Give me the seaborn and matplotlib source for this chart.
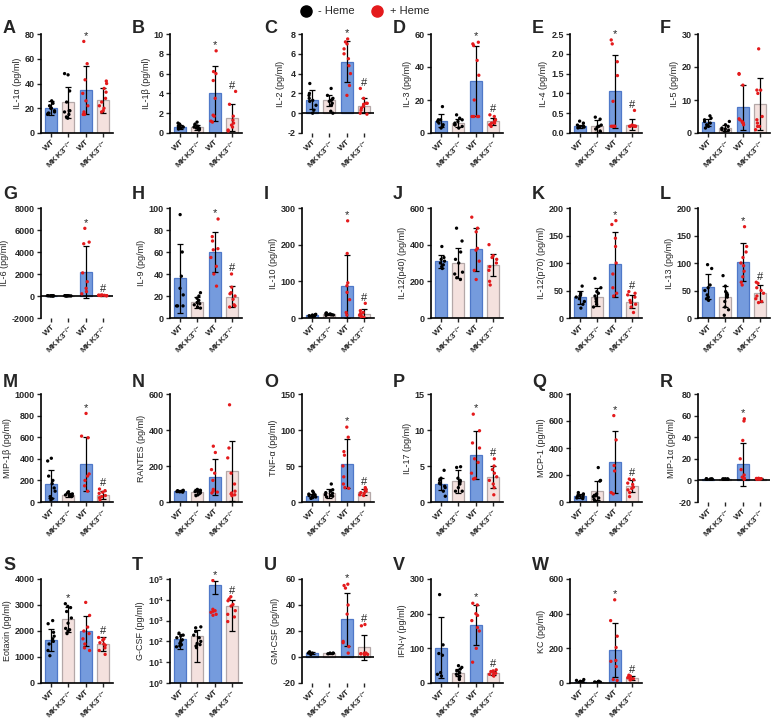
import numpy as np
import pandas as pd
import seaborn as sns
import matplotlib
matplotlib.use('Agg')
import matplotlib.pyplot as plt
from matplotlib.lines import Line2D
from matplotlib.ticker import FormatStrFormatter, NullLocator

# groups (bar order) and their labels
GROUPS = ['WT -Heme', 'MKK3 -Heme', 'WT +Heme', 'MKK3 +Heme']
HEME = ['-', '-', '+', '+']
XLABELS = ['WT', r'MKK3$^{-/-}$', 'WT', r'MKK3$^{-/-}$']

# ---- data: bar = mean, sd = error bar, pts = animals ----
IL1A_BAR = [20, 25, 34.5, 26.5]
IL1A_SD = [5.5, 12.5, 19.5, 10]
IL1A_PTS = [[26, 24, 22, 20, 18, 17, 16, 16, 15, 20], [48, 47, 34, 25, 18, 18, 17, 15, 13, 12],
            [74, 56, 43, 32, 26, 22, 17, 15, 15], [42, 40, 36, 33, 28, 25, 22, 20, 18, 17]]
IL1A_SIG = ['', '', '*', '']

IL1B_BAR = [0.65, 0.6, 4.0, 1.55]
IL1B_SD = [0.2, 0.25, 2.75, 1.35]
IL1B_PTS = [[1.0, 0.9, 0.8, 0.7, 0.7, 0.6, 0.6, 0.5, 0.5, 0.4], [1.1, 0.9, 0.8, 0.7, 0.6, 0.6, 0.5, 0.5, 0.4, 0.3],
            [8.3, 6.2, 6.0, 5.3, 3.5, 1.8, 1.7, 1.2, 1.1], [4.2, 2.9, 1.7, 1.3, 1.0, 0.8, 0.6, 0.3, 0.2]]
IL1B_SIG = ['', '', '*', '#']

IL2_BAR = [1.35, 1.3, 5.2, 0.75]
IL2_SD = [0.95, 0.55, 2.05, 0.75]
IL2_PTS = [[3.0, 2.0, 1.8, 1.5, 1.3, 1.2, 0.8, 0.3, 0.0], [2.5, 1.8, 1.5, 1.4, 1.3, 1.2, 1.0, 0.8, 0.2, 0.0],
           [7.5, 7.2, 7.0, 6.5, 6.0, 5.5, 4.8, 4.0, 2.8, 1.8], [2.5, 1.5, 1.0, 1.0, 0.9, 0.7, 0.5, 0.3, 0.0, -0.1]]
IL2_SIG = ['', '', '*', '#']

IL3_BAR = [7.5, 6, 31.5, 7]
IL3_SD = [4, 2.5, 21, 2]
IL3_PTS = [[16, 8, 8, 7, 6, 5, 4, 3], [11, 9, 8, 7, 6, 5, 5, 4, 3],
           [55, 54, 53, 44, 35, 20, 10, 10, 10, 10], [11, 10, 8, 7, 6, 6, 5, 4]]
IL3_SIG = ['', '', '*', '#']

IL4_BAR = [0.17, 0.17, 1.05, 0.21]
IL4_SD = [0.04, 0.15, 0.92, 0.14]
IL4_PTS = [[0.3, 0.25, 0.2, 0.18, 0.17, 0.15, 0.15, 0.13], [0.4, 0.35, 0.2, 0.17, 0.15, 0.1, 0.05, 0.02],
           [2.35, 2.25, 1.8, 1.45, 0.8, 0.17, 0.17, 0.17, 0.17], [0.57, 0.2, 0.18, 0.17, 0.17, 0.17, 0.17, 0.17]]
IL4_SIG = ['', '', '*', '#']

IL5_BAR = [3.2, 1.5, 7.8, 8.8]
IL5_SD = [1.1, 1.0, 6.8, 7.9]
IL5_PTS = [[5.2, 4.5, 4.0, 3.5, 3.0, 2.5, 2.0, 1.5], [3.5, 2.5, 2.0, 1.5, 1.2, 1.0, 0.8, 0.5],
           [18, 17.8, 14.5, 4.3, 4.0, 3.5, 3.2, 3.0, 2.5], [25.5, 13, 13, 12, 5, 4, 3, 2, 2, 1]]
IL5_SIG = ['', '', '', '']

IL6_BAR = [20, 20, 2150, 60]
IL6_SD = [10, 10, 2370, 30]
IL6_PTS = [[30, 25, 20, 20, 15, 15, 10, 10], [30, 25, 20, 20, 15, 15, 10, 10],
           [6150, 4900, 4750, 2100, 1300, 700, 400, 200], [100, 80, 70, 60, 50, 40, 30, 20]]
IL6_SIG = ['', '', '*', '#']

IL9_BAR = [36, 14.5, 60, 19.5]
IL9_SD = [31, 5, 18.5, 9.5]
IL9_PTS = [[94, 60, 38, 27, 21, 11, 11, 11], [23, 20, 18, 16, 14, 13, 12, 10, 9],
           [90, 74, 70, 63, 62, 55, 47, 40, 29], [40, 28, 23, 22, 20, 17, 12, 11, 10]]
IL9_SIG = ['', '', '*', '#']

IL10_BAR = [7, 10, 86, 12]
IL10_SD = [2, 2, 86, 13]
IL10_PTS = [[10, 9, 8, 7, 6, 5, 5, 4], [14, 12, 11, 10, 9, 9, 8, 7],
            [265, 176, 96, 88, 70, 50, 15, 8], [40, 20, 15, 12, 10, 8, 5, 3, 2]]
IL10_SIG = ['', '', '*', '#']

IL12P40_BAR = [310, 298, 375, 290]
IL12P40_SD = [35, 82, 118, 60]
IL12P40_PTS = [[390, 330, 320, 310, 300, 290, 280, 270], [490, 420, 360, 320, 300, 250, 240, 220, 210],
               [550, 490, 470, 380, 370, 310, 260, 210], [400, 340, 330, 320, 300, 280, 260, 200, 180]]
IL12P40_SIG = ['', '', '', '']

IL12P70_BAR = [38, 38, 98, 30]
IL12P70_SD = [12, 16, 59, 12]
IL12P70_PTS = [[58, 45, 42, 40, 38, 35, 30, 25, 18], [72, 55, 48, 45, 40, 35, 30, 25, 20],
               [177, 170, 145, 130, 100, 80, 55, 45, 40], [48, 45, 42, 38, 32, 28, 25, 20, 10]]
IL12P70_SIG = ['', '', '*', '#']

IL13_BAR = [57, 39, 102, 45]
IL13_SD = [23, 19, 34, 15]
IL13_PTS = [[97, 90, 60, 55, 50, 42, 38, 35, 32], [77, 58, 48, 45, 42, 38, 30, 20, 15, 5],
            [166, 130, 120, 110, 100, 95, 85, 75, 65, 60], [65, 63, 55, 50, 45, 40, 35, 30, 28]]
IL13_SIG = ['', '', '*', '#']

MIP1B_BAR = [165, 65, 350, 65]
MIP1B_SD = [130, 15, 252, 35]
MIP1B_PTS = [[405, 380, 240, 200, 170, 130, 100, 50, 30, 20], [95, 85, 75, 70, 65, 60, 55, 50],
             [820, 610, 595, 260, 240, 200, 150, 100], [120, 105, 90, 80, 60, 50, 40, 20]]
MIP1B_SIG = ['', '', '*', '#']

RANTES_BAR = [60, 57, 140, 172]
RANTES_SD = [5, 13, 100, 166]
RANTES_PTS = [[65, 63, 62, 60, 58, 57, 55], [70, 65, 62, 60, 58, 55, 50, 40, 35],
              [310, 275, 180, 160, 120, 70, 60, 55, 50], [540, 300, 245, 160, 100, 60, 50, 45, 40, 35]]
RANTES_SIG = ['', '', '', '']

TNFA_BAR = [9, 12, 53, 14]
TNFA_SD = [2.5, 6, 34, 4]
TNFA_PTS = [[15, 13, 11, 10, 9, 8, 7, 6, 5], [25, 17, 15, 13, 12, 10, 9, 8, 7],
            [104, 90, 70, 65, 50, 35, 25, 20, 19], [20, 18, 17, 15, 13, 12, 10, 9]]
TNFA_SIG = ['', '', '*', '#']

IL17_BAR = [2.5, 2.9, 6.5, 3.5]
IL17_SD = [0.9, 1.6, 3.3, 1.5]
IL17_PTS = [[4.4, 3.3, 3.0, 2.6, 2.5, 2.2, 2.0, 1.5, 0.8], [4.9, 4.8, 3.3, 3.0, 2.8, 2.5, 2.0, 1.5, 1.5],
            [12.2, 9.9, 8.2, 7.5, 6.0, 5.5, 4.0, 3.3, 3.2], [6.0, 5.0, 4.5, 4.0, 3.5, 3.0, 2.5, 2.0, 1.0]]
IL17_SIG = ['', '', '*', '#']

MCP1_BAR = [45, 85, 295, 120]
MCP1_SD = [15, 70, 230, 45]
MCP1_PTS = [[70, 60, 55, 50, 45, 40, 35, 30, 25], [255, 160, 155, 60, 50, 45, 40, 30, 20, 10, 0],
            [640, 460, 270, 230, 70, 60], [170, 165, 140, 130, 110, 100, 90, 70, 40]]
MCP1_SIG = ['', '', '*', '#']

MIP1A_BAR = [1.2, 1.2, 15, 1.5]
MIP1A_SD = [0.3, 0.3, 20, 0.4]
MIP1A_PTS = [[1.5, 1.4, 1.3, 1.2, 1.2, 1.1, 1.0, 1.0], [1.5, 1.4, 1.3, 1.2, 1.2, 1.1, 1.0, 1.0],
             [57, 55, 37, 20, 10, 5, 3, 2, 1], [2.0, 1.8, 1.6, 1.5, 1.4, 1.3, 1.2, 1.1]]
MIP1A_SIG = ['', '', '*', '']

EOTAXIN_BAR = [1650, 2460, 2000, 1500]
EOTAXIN_SD = [410, 480, 560, 280]
EOTAXIN_PTS = [[2400, 2280, 1950, 1800, 1700, 1600, 1500, 1250, 1050],
               [3050, 2950, 2900, 2750, 2500, 2300, 2100, 2050, 2000, 1900],
               [3100, 2600, 2150, 2000, 1900, 1700, 1500, 1350, 1250],
               [1750, 1700, 1650, 1550, 1500, 1450, 1350, 1250, 1100]]
EOTAXIN_SIG = ['', '*', '', '#']

GCSF_BAR = [132, 190, 49000, 4900]
GCSF_SD = [90, 180, 31000, 4600]
GCSF_PTS = [[250, 200, 180, 150, 120, 100, 80, 70, 60, 55], [500, 450, 300, 200, 150, 100, 80, 70, 60, 50],
            [85000, 3500, 3000, 2800, 2500, 2000, 1800], [14000, 11000, 9000, 6000, 5000, 3000, 2000, 1500, 900]]
GCSF_SIG = ['', '', '*', '#']

GMCSF_BAR = [3, 2.8, 29, 7.5]
GMCSF_SD = [0.6, 0.4, 20.5, 9.5]
GMCSF_PTS = [[4, 3, 3, 2.5, 2], [3, 3, 2.8, 2.6, 2.5],
             [56, 55, 53, 40, 33, 12, 11, 8, 3], [25, 24, 3, 3, 2.5, 2.5, 2, 2, 2]]
GMCSF_SIG = ['', '', '*', '#']

IFNG_BAR = [102, 30, 168, 28]
IFNG_SD = [88, 10, 57, 6]
IFNG_PTS = [[255, 110, 85, 80, 30, 25, 20], [50, 45, 40, 35, 30, 25, 20, 15, 10],
            [230, 225, 200, 195, 180, 160, 150, 100, 60], [38, 35, 33, 30, 28, 25, 22, 20]]
IFNG_SIG = ['', '', '*', '#']

KC_BAR = [8, 7, 190, 30]
KC_SD = [4, 2, 158, 12]
KC_PTS = [[20, 15, 10, 8, 5, 3], [10, 8, 7, 6, 5],
          [480, 360, 270, 205, 130, 125, 95, 20, 15], [45, 40, 35, 30, 28, 25, 20, 18]]
KC_SIG = ['', '', '*', '#']

# (letter, y label, bars, sd, points, marks, y ticks, log axis)
PANELS = [
    ('A', 'IL-1α (pg/ml)', IL1A_BAR, IL1A_SD, IL1A_PTS, IL1A_SIG, [0, 20, 40, 60, 80], False),
    ('B', 'IL-1β (pg/ml)', IL1B_BAR, IL1B_SD, IL1B_PTS, IL1B_SIG, [0, 2, 4, 6, 8, 10], False),
    ('C', 'IL-2 (pg/ml)', IL2_BAR, IL2_SD, IL2_PTS, IL2_SIG, [-2, 0, 2, 4, 6, 8], False),
    ('D', 'IL-3 (pg/ml)', IL3_BAR, IL3_SD, IL3_PTS, IL3_SIG, [0, 20, 40, 60], False),
    ('E', 'IL-4 (pg/ml)', IL4_BAR, IL4_SD, IL4_PTS, IL4_SIG, [0, 0.5, 1.0, 1.5, 2.0, 2.5], False),
    ('F', 'IL-5 (pg/ml)', IL5_BAR, IL5_SD, IL5_PTS, IL5_SIG, [0, 10, 20, 30], False),
    ('G', 'IL-6 (pg/ml)', IL6_BAR, IL6_SD, IL6_PTS, IL6_SIG, [-2000, 0, 2000, 4000, 6000, 8000], False),
    ('H', 'IL-9 (pg/ml)', IL9_BAR, IL9_SD, IL9_PTS, IL9_SIG, [0, 20, 40, 60, 80, 100], False),
    ('I', 'IL-10 (pg/ml)', IL10_BAR, IL10_SD, IL10_PTS, IL10_SIG, [0, 100, 200, 300], False),
    ('J', 'IL-12(p40) (pg/ml)', IL12P40_BAR, IL12P40_SD, IL12P40_PTS, IL12P40_SIG, [0, 200, 400, 600], False),
    ('K', 'IL-12(p70) (pg/ml)', IL12P70_BAR, IL12P70_SD, IL12P70_PTS, IL12P70_SIG, [0, 50, 100, 150, 200], False),
    ('L', 'IL-13 (pg/ml)', IL13_BAR, IL13_SD, IL13_PTS, IL13_SIG, [0, 50, 100, 150, 200], False),
    ('M', 'MIP-1β (pg/ml)', MIP1B_BAR, MIP1B_SD, MIP1B_PTS, MIP1B_SIG, [0, 200, 400, 600, 800, 1000], False),
    ('N', 'RANTES (pg/ml)', RANTES_BAR, RANTES_SD, RANTES_PTS, RANTES_SIG, [0, 200, 400, 600], False),
    ('O', 'TNF-α (pg/ml)', TNFA_BAR, TNFA_SD, TNFA_PTS, TNFA_SIG, [0, 50, 100, 150], False),
    ('P', 'IL-17 (pg/ml)', IL17_BAR, IL17_SD, IL17_PTS, IL17_SIG, [0, 5, 10, 15], False),
    ('Q', 'MCP-1 (pg/ml)', MCP1_BAR, MCP1_SD, MCP1_PTS, MCP1_SIG, [0, 200, 400, 600, 800], False),
    ('R', 'MIP-1α (pg/ml)', MIP1A_BAR, MIP1A_SD, MIP1A_PTS, MIP1A_SIG, [-20, 0, 20, 40, 60, 80], False),
    ('S', 'Eotaxin (pg/ml)', EOTAXIN_BAR, EOTAXIN_SD, EOTAXIN_PTS, EOTAXIN_SIG, [0, 1000, 2000, 3000, 4000], False),
    ('T', 'G-CSF (pg/ml)', GCSF_BAR, GCSF_SD, GCSF_PTS, GCSF_SIG, [1, 10, 100, 1e3, 1e4, 1e5], True),
    ('U', 'GM-CSF (pg/ml)', GMCSF_BAR, GMCSF_SD, GMCSF_PTS, GMCSF_SIG, [-20, 0, 20, 40, 60], False),
    ('V', 'IFN-γ (pg/ml)', IFNG_BAR, IFNG_SD, IFNG_PTS, IFNG_SIG, [0, 100, 200, 300], False),
    ('W', 'KC (pg/ml)', KC_BAR, KC_SD, KC_PTS, KC_SIG, [0, 200, 400, 600], False),
]

BAR_FILL = dict(zip(GROUPS, ['#6496EE', '#F8DEDA', '#6496EE', '#F8DEDA']))
BAR_EDGE = ['#4F78C8', '#B4A8A8', '#4F78C8', '#B4A8A8']
DOT = {'-': 'black', '+': '#E41A1C'}

# layout in pixels (figure is 781 x 721)
W, H = 781, 721
COL_X = [41, 170, 302, 431, 570, 698]
ROW_Y = [(34, 133), (208, 318), (394, 502), (579, 683)]
LETTER_Y = [33, 199, 387, 570]
AX_W = 72


def draw_panel(ax, bar, sd, pts, sig, ticks, ylabel, log):
    bars = pd.DataFrame({'group': GROUPS, 'value': bar})
    dots = pd.DataFrame([(GROUPS[i], HEME[i], v) for i in range(4) for v in pts[i]],
                        columns=['group', 'heme', 'value'])
    if log:
        ax.set_yscale('log')
    sns.barplot(data=bars, x='group', y='value', hue='group', order=GROUPS,
                palette=BAR_FILL, width=0.7, errorbar=None, legend=False,
                linewidth=0.9, ax=ax)
    for patch, ec in zip(ax.patches, BAR_EDGE):
        patch.set_edgecolor(ec)

    mean = np.array(bar, dtype=float)
    err = np.array(sd, dtype=float)
    lower = np.minimum(err, mean - 1e-3) if log else err
    ax.errorbar(range(4), mean, yerr=[lower, err], fmt='none', ecolor='black',
                elinewidth=0.9, capsize=2.5, capthick=0.9, zorder=3)

    sns.stripplot(data=dots, x='group', y='value', hue='heme', order=GROUPS,
                  palette=DOT, jitter=0.24, size=2.4, legend=False, ax=ax, zorder=4)

    for i, s in enumerate(sig):
        if s:
            top = max(max(pts[i]), mean[i] + err[i])
            ax.annotate(s, (i, top), xytext=(0, 0.5), textcoords='offset points',
                        ha='center', va='bottom', fontsize=8, annotation_clip=False)

    ax.set_xlim(-0.6, 3.6)
    ax.set_ylim(ticks[0], ticks[-1])
    ax.set_yticks(ticks)
    if log:
        ax.yaxis.set_minor_locator(NullLocator())
    elif any(t % 1 for t in ticks):
        ax.yaxis.set_major_formatter(FormatStrFormatter('%.1f'))
    else:
        ax.yaxis.set_major_formatter(FormatStrFormatter('%d'))
    if ticks[0] < 0:
        ax.axhline(0, color='black', lw=1.2, zorder=2.5)
        ax.spines['bottom'].set_visible(False)

    ax.set_xticks(range(4))
    ax.set_xticklabels(XLABELS, rotation=45, ha='right', rotation_mode='anchor',
                       fontsize=6, fontweight='bold')
    ax.set_xlabel('')
    ax.set_ylabel(ylabel, fontsize=6.5, labelpad=2)
    for lab in ax.get_yticklabels():
        lab.set_fontweight('bold')
    ax.tick_params(axis='y', direction='out', length=3, width=1, labelsize=6.5, pad=1.5)
    ax.tick_params(axis='x', direction='out', length=3, width=1, labelsize=6, pad=1)
    for side in ['top', 'right']:
        ax.spines[side].set_visible(False)
    for side in ['left', 'bottom']:
        ax.spines[side].set_linewidth(1.2)
        ax.spines[side].set_color('black')


def main():
    np.random.seed(3)
    sns.set_style('ticks')
    plt.rcParams['font.family'] = ['Liberation Sans', 'DejaVu Sans']
    plt.rcParams['axes.unicode_minus'] = False
    plt.rcParams['mathtext.fontset'] = 'custom'
    plt.rcParams['mathtext.rm'] = 'Liberation Sans'
    plt.rcParams['mathtext.bf'] = 'Liberation Sans:bold'
    plt.rcParams['mathtext.default'] = 'bf'

    fig = plt.figure(figsize=(W / 100, H / 100), dpi=100)
    for k, (letter, ylabel, bar, sd, pts, sig, ticks, log) in enumerate(PANELS):
        r, c = divmod(k, 6)
        x = COL_X[c]
        top, bot = ROW_Y[r]
        ax = fig.add_axes([x / W, 1 - bot / H, AX_W / W, (bot - top) / H])
        draw_panel(ax, bar, sd, pts, sig, ticks, ylabel, log)
        fig.text((x - 38) / W, 1 - LETTER_Y[r] / H, letter, fontsize=13,
                 fontweight='bold', va='baseline', ha='left')

    handles = [Line2D([], [], marker='o', ls='', color='black', markersize=8, label='- Heme'),
               Line2D([], [], marker='o', ls='', color='#E41A1C', markersize=8, label='+ Heme')]
    fig.legend(handles=handles, loc='upper center', bbox_to_anchor=(362 / W, 1.005),
               ncol=2, frameon=False, fontsize=8, handletextpad=0.1, columnspacing=1.0)

    fig.savefig('out.png', dpi=100)


if __name__ == '__main__':
    main()
